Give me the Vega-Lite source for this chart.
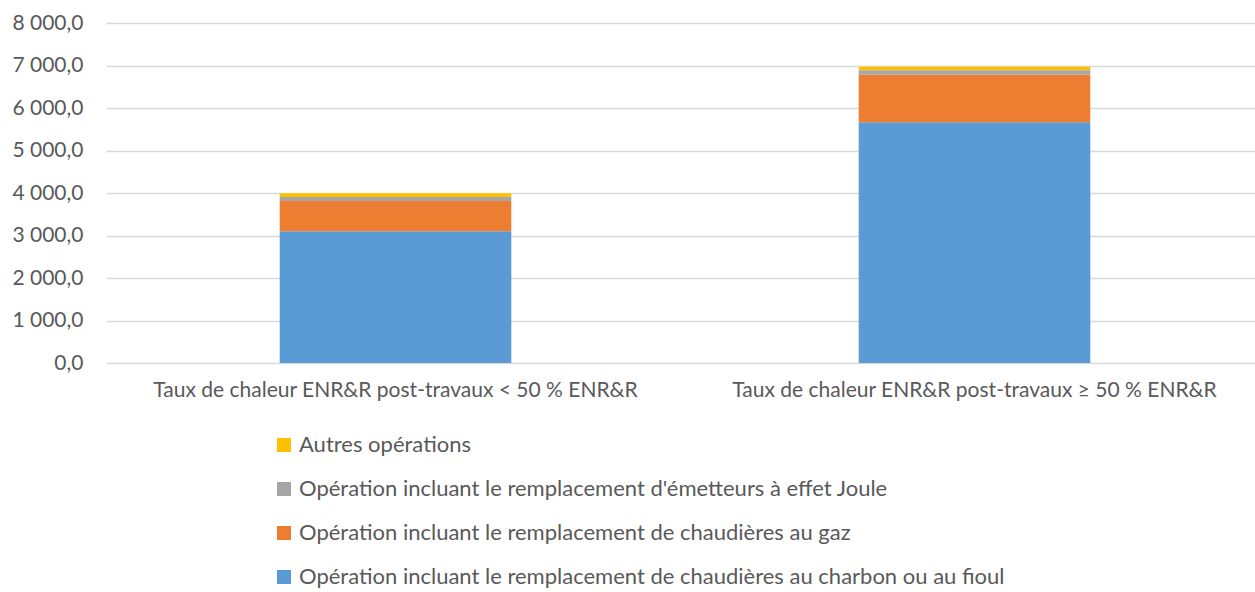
{
  "$schema": "https://vega.github.io/schema/vega-lite/v6.json",
  "autosize": {"type": "none"},
  "width": 1158,
  "height": 340,
  "padding": {"left": 106, "top": 23, "right": 0, "bottom": 229},
  "background": "white",
  "config": {
    "view": {"stroke": null},
    "font": "Lato",
    "locale": {"number": {"decimal": ",", "thousands": "\u00a0", "grouping": [3], "currency": ["", " €"]}}
  },
  "data": {
    "values": [
      {"categorie": "Taux de chaleur ENR&R post-travaux < 50 % ENR&R", "serie": "Opération incluant le remplacement de chaudières au charbon ou au fioul", "valeur": 3098},
      {"categorie": "Taux de chaleur ENR&R post-travaux < 50 % ENR&R", "serie": "Opération incluant le remplacement de chaudières au gaz", "valeur": 714},
      {"categorie": "Taux de chaleur ENR&R post-travaux < 50 % ENR&R", "serie": "Opération incluant le remplacement d'émetteurs à effet Joule", "valeur": 95},
      {"categorie": "Taux de chaleur ENR&R post-travaux < 50 % ENR&R", "serie": "Autres opérations", "valeur": 85},
      {"categorie": "Taux de chaleur ENR&R post-travaux ≥ 50 % ENR&R", "serie": "Opération incluant le remplacement de chaudières au charbon ou au fioul", "valeur": 5663},
      {"categorie": "Taux de chaleur ENR&R post-travaux ≥ 50 % ENR&R", "serie": "Opération incluant le remplacement de chaudières au gaz", "valeur": 1121},
      {"categorie": "Taux de chaleur ENR&R post-travaux ≥ 50 % ENR&R", "serie": "Opération incluant le remplacement d'émetteurs à effet Joule", "valeur": 103},
      {"categorie": "Taux de chaleur ENR&R post-travaux ≥ 50 % ENR&R", "serie": "Autres opérations", "valeur": 85}
    ]
  },
  "transform": [
    {"calculate": "indexof(['Opération incluant le remplacement de chaudières au charbon ou au fioul','Opération incluant le remplacement de chaudières au gaz',\"Opération incluant le remplacement d'émetteurs à effet Joule\",'Autres opérations'], datum.serie)", "as": "rang"}
  ],
  "mark": {"type": "bar"},
  "encoding": {
    "x": {
      "field": "categorie", "type": "nominal", "sort": null,
      "scale": {"paddingInner": 0.6, "paddingOuter": 0.3},
      "axis": {"title": null, "labelAngle": 0, "domain": false, "ticks": false, "labelFontSize": 21, "labelColor": "#595959", "labelPadding": 16, "labelLimit": 0}
    },
    "y": {
      "field": "valeur", "type": "quantitative", "stack": "zero",
      "scale": {"domain": [0, 8000], "nice": false},
      "axis": {"title": null, "values": [0,1000,2000,3000,4000,5000,6000,7000,8000], "labelOverlap": false, "format": ",.1f", "domain": false, "ticks": false, "labelFontSize": 21, "labelColor": "#595959", "labelPadding": 23, "gridColor": "#D9D9D9", "gridWidth": 1.5}
    },
    "color": {
      "field": "serie", "type": "nominal",
      "scale": {
        "domain": ["Autres opérations", "Opération incluant le remplacement d'émetteurs à effet Joule", "Opération incluant le remplacement de chaudières au gaz", "Opération incluant le remplacement de chaudières au charbon ou au fioul"],
        "range": ["#FFC000", "#A5A5A5", "#ED7D31", "#5B9BD5"]
      },
      "legend": {
        "title": null, "orient": "none", "legendX": 167, "legendY": 411, "direction": "vertical",
        "symbolType": "square", "symbolSize": 196, "symbolStrokeWidth": 0, "symbolOpacity": 1,
        "labelFontSize": 22, "labelColor": "#595959", "labelLimit": 0, "labelOffset": 4, "rowPadding": 22
      }
    },
    "order": {"field": "rang", "type": "quantitative", "sort": "ascending"}
  }
}
